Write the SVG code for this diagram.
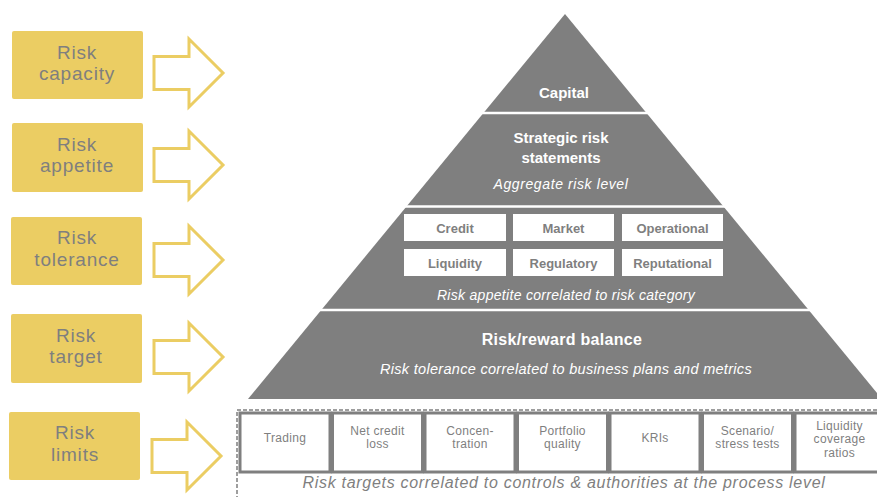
<svg xmlns="http://www.w3.org/2000/svg" width="877" height="497" viewBox="0 0 877 497">
<style>
.ybox{fill:#ebcd63;}
.ylab{font-family:"Liberation Sans",Arial,sans-serif;font-size:19px;letter-spacing:0.8px;fill:#7f7f7f;text-anchor:middle;}
.arrow{fill:#ffffff;stroke:#ebcd63;stroke-width:3;stroke-linejoin:miter;}
.pyr{fill:#7f7f7f;}
.sep{stroke:#ffffff;stroke-width:2.5;}
.wb{font-family:"Liberation Sans",Arial,sans-serif;font-weight:bold;fill:#ffffff;text-anchor:middle;}
.wi{font-family:"Liberation Sans",Arial,sans-serif;font-style:italic;fill:#ffffff;text-anchor:middle;}
.cat{fill:#ffffff;}
.catlab{font-family:"Liberation Sans",Arial,sans-serif;font-weight:bold;font-size:13px;fill:#7f7f7f;text-anchor:middle;}
.lbox{fill:#ffffff;stroke:#7f7f7f;stroke-width:3;}
.llab{font-family:"Liberation Sans",Arial,sans-serif;font-size:12px;letter-spacing:0.3px;fill:#7f7f7f;text-anchor:middle;}
.gi{font-family:"Liberation Sans",Arial,sans-serif;font-style:italic;font-size:16px;letter-spacing:0.7px;fill:#7f7f7f;text-anchor:middle;}
</style>
<defs>
<path id="blk" d="M0,-16.5 H35 V-34 L69,0 L35,34 V16.5 H0 Z"/>
</defs>
<rect width="877" height="497" fill="#ffffff"/>

<g id="risk-capacity">
<rect class="ybox" x="12" y="31" width="131" height="68" rx="2"/>
<text class="ylab" x="77" y="58.5">Risk</text>
<text class="ylab" x="77" y="80">capacity</text>
</g>
<g id="risk-appetite">
<rect class="ybox" x="12" y="123" width="131" height="69" rx="2"/>
<text class="ylab" x="77" y="150.5">Risk</text>
<text class="ylab" x="77" y="172">appetite</text>
</g>
<g id="risk-tolerance">
<rect class="ybox" x="11" y="217" width="131" height="68" rx="2"/>
<text class="ylab" x="77" y="244">Risk</text>
<text class="ylab" x="77" y="265.5">tolerance</text>
</g>
<g id="risk-target">
<rect class="ybox" x="11" y="314" width="131" height="69" rx="2"/>
<text class="ylab" x="76" y="341.5">Risk</text>
<text class="ylab" x="76" y="363">target</text>
</g>
<g id="risk-limits">
<rect class="ybox" x="9" y="412" width="131" height="68" rx="2"/>
<text class="ylab" x="75" y="439">Risk</text>
<text class="ylab" x="75" y="460.5">limits</text>
</g>

<g id="connectors">
<use href="#blk" class="arrow" transform="translate(154,73)"/>
<use href="#blk" class="arrow" transform="translate(154,165)"/>
<use href="#blk" class="arrow" transform="translate(154,260)"/>
<use href="#blk" class="arrow" transform="translate(154,357)"/>
<use href="#blk" class="arrow" transform="translate(152,456)"/>
</g>

<g id="pyramid">
<polygon class="pyr" points="565,14 248,399 882,399"/>
<line class="sep" x1="240" y1="113" x2="877" y2="113"/>
<line class="sep" x1="240" y1="206.5" x2="877" y2="206.5"/>
<line class="sep" x1="240" y1="310" x2="877" y2="310"/>
</g>

<g id="capital">
<text class="wb" x="564" y="98" font-size="15">Capital</text>
</g>
<g id="strategic">
<text class="wb" x="561" y="143" font-size="15">Strategic risk</text>
<text class="wb" x="561" y="163" font-size="15">statements</text>
<text class="wi" x="561" y="189" font-size="14" letter-spacing="0.6">Aggregate risk level</text>
</g>
<g id="categories">
<rect class="cat" x="404" y="214" width="102" height="27"/>
<rect class="cat" x="513" y="214" width="101" height="27"/>
<rect class="cat" x="622" y="214" width="101" height="27"/>
<rect class="cat" x="404" y="249" width="102" height="27"/>
<rect class="cat" x="513" y="249" width="101" height="27"/>
<rect class="cat" x="622" y="249" width="101" height="27"/>
<text class="catlab" x="455" y="233">Credit</text>
<text class="catlab" x="563.5" y="233">Market</text>
<text class="catlab" x="672.5" y="233">Operational</text>
<text class="catlab" x="455" y="268">Liquidity</text>
<text class="catlab" x="563.5" y="268">Regulatory</text>
<text class="catlab" x="672.5" y="268">Reputational</text>
<text class="wi" x="566" y="300" font-size="14" letter-spacing="0.3">Risk appetite  correlated to risk category</text>
</g>
<g id="risk-reward">
<text class="wb" x="562" y="345" font-size="16" letter-spacing="0.3">Risk/reward balance</text>
<text class="wi" x="566" y="374" font-size="14.5" letter-spacing="0.3">Risk tolerance correlated to business plans and metrics</text>
</g>

<g id="limits">
<rect x="237" y="410" width="700" height="200" fill="none" stroke="#7f7f7f" stroke-width="1.5" stroke-dasharray="4,2"/>
<rect class="lbox" x="240" y="413" width="90" height="59"/>
<rect class="lbox" x="332.5" y="413" width="90" height="59"/>
<rect class="lbox" x="425" y="413" width="90" height="59"/>
<rect class="lbox" x="517.5" y="413" width="90" height="59"/>
<rect class="lbox" x="610" y="413" width="90" height="59"/>
<rect class="lbox" x="702.5" y="413" width="90" height="59"/>
<rect class="lbox" x="795" y="413" width="90" height="59"/>
<text class="llab" x="285" y="442">Trading</text>
<text class="llab" x="377.5" y="434.5">Net credit</text>
<text class="llab" x="377.5" y="448">loss</text>
<text class="llab" x="470" y="434.5">Concen-</text>
<text class="llab" x="470" y="448">tration</text>
<text class="llab" x="562.5" y="434.5">Portfolio</text>
<text class="llab" x="562.5" y="448">quality</text>
<text class="llab" x="655" y="442">KRIs</text>
<text class="llab" x="747.5" y="434.5">Scenario/</text>
<text class="llab" x="747.5" y="448">stress tests</text>
<text class="llab" x="839.5" y="429.5">Liquidity</text>
<text class="llab" x="839.5" y="443">coverage</text>
<text class="llab" x="839.5" y="456.5">ratios</text>
<text class="gi" x="564" y="487.5">Risk targets correlated to controls &amp; authorities at the process level</text>
</g>
</svg>
